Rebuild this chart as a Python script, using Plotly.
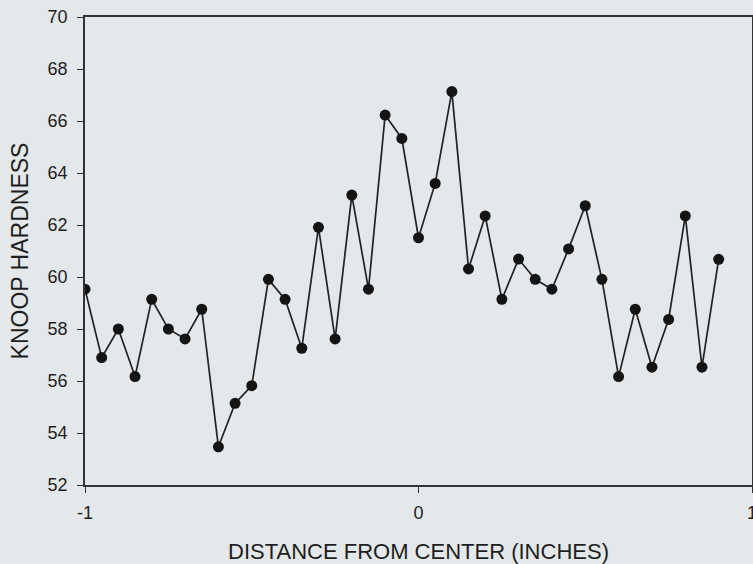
import plotly.graph_objects as go

distance = [-1.0, -0.95, -0.9, -0.85, -0.8, -0.75, -0.7, -0.65, -0.6, -0.55,
            -0.5, -0.45, -0.4, -0.35, -0.3, -0.25, -0.2, -0.15, -0.1, -0.05,
            0.0, 0.05, 0.1, 0.15, 0.2, 0.25, 0.3, 0.35, 0.4, 0.45,
            0.5, 0.55, 0.6, 0.65, 0.7, 0.75, 0.8, 0.85, 0.9]
hardness = [59.53, 56.9, 58.0, 56.17, 59.14, 58.0, 57.62, 58.76, 53.47, 55.14,
            55.82, 59.91, 59.14, 57.26, 61.91, 57.62, 63.15, 59.53, 66.23, 65.33,
            61.51, 63.6, 67.13, 60.31, 62.35, 59.14, 60.69, 59.91, 59.53, 61.08,
            62.74, 59.91, 56.17, 58.76, 56.53, 58.37, 62.35, 56.53, 60.68]

x_ticks = [-1, 0, 1]
y_ticks = [52, 54, 56, 58, 60, 62, 64, 66, 68, 70]

BG = "#e4e8eb"
INK = "#1e1e1e"
FONT = "Liberation Sans, Arial, sans-serif"

fig = go.Figure()
fig.add_trace(go.Scatter(
    x=distance, y=hardness, mode="lines+markers",
    line=dict(color="#222222", width=1.7),
    marker=dict(color="#141414", size=11, line=dict(width=0)),
    showlegend=False,
))

fig.update_layout(
    template="none",
    width=753, height=564,
    margin=dict(l=85, r=1, t=17, b=79),
    paper_bgcolor=BG, plot_bgcolor=BG,
    font=dict(family=FONT, size=18, color=INK),
    xaxis=dict(
        range=[-1, 1], tickvals=x_ticks, ticktext=[str(v) for v in x_ticks],
        showgrid=False, zeroline=False, automargin=False,
        showline=True, linecolor="#333333", linewidth=1.5, mirror=True,
        ticks="outside", ticklen=6, tickcolor="#333333",
        ticklabelstandoff=5, ticklabeloverflow="allow",
        title=dict(text="DISTANCE FROM CENTER (INCHES)", font=dict(size=22), standoff=21),
    ),
    yaxis=dict(
        range=[52, 70], tickvals=y_ticks,
        showgrid=False, zeroline=False, automargin=False,
        showline=True, linecolor="#333333", linewidth=1.5, mirror=True,
        ticks="outside", ticklen=6, tickcolor="#333333",
        ticklabelstandoff=6,
        title=dict(text="KNOOP HARDNESS", font=dict(size=23), standoff=13),
    ),
)

fig.write_html(
    "out.html",
    config={"displayModeBar": False},
    post_script="document.body.style.margin='0';document.body.style.background='%s';" % BG,
)
